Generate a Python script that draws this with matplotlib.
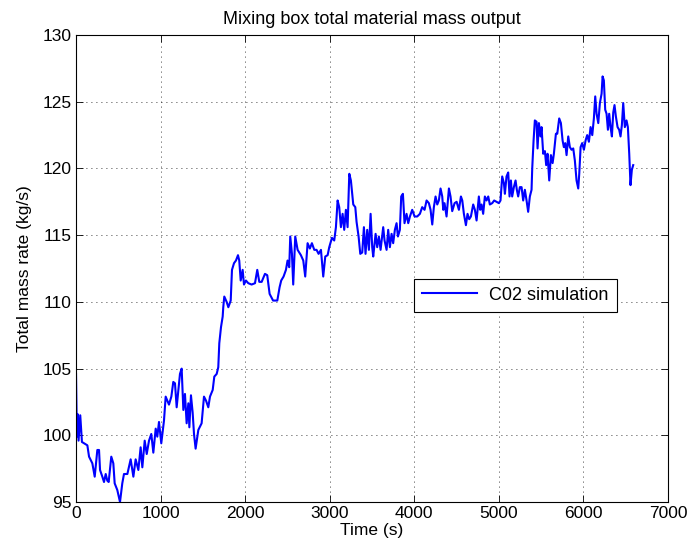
import matplotlib
matplotlib.use('Agg')
import matplotlib.pyplot as plt

# values (time in s, mass rate in kg/s)
time_s = [0, 10, 18, 30, 50, 70, 95, 134, 154, 193, 221, 252, 272, 284, 311, 331, 351, 370, 386,
          417, 441, 457, 488, 520, 547, 567, 607, 646, 678, 705, 737, 764, 784, 812, 836, 863,
          890, 914, 942, 961, 981, 1008, 1040, 1060, 1099, 1127,
          1150, 1170, 1190, 1210, 1229, 1249, 1269, 1288, 1308, 1328, 1340, 1359, 1379, 1395, 1414,
          1446, 1485, 1513, 1537, 1564, 1584, 1616, 1635, 1663, 1682, 1694, 1714, 1734, 1741, 1753,
          1781, 1801, 1829, 1844, 1868, 1891, 1915, 1930, 1947, 1970, 1986, 2009, 2037, 2076, 2116,
          2143, 2167, 2195, 2234, 2261,
          2289, 2330, 2380, 2407, 2426, 2454, 2482, 2501, 2521, 2533, 2553, 2568, 2592, 2620, 2659,
          2687, 2710, 2738, 2765, 2789, 2817, 2844, 2868, 2896, 2923, 2947, 2975, 2994, 3026, 3053,
          3073, 3093, 3112, 3132, 3152, 3171, 3191, 3211, 3231, 3250, 3278, 3302, 3317, 3341, 3361,
          3384, 3404, 3423, 3443, 3463, 3483, 3502, 3514, 3542, 3561, 3581, 3601, 3632, 3648, 3672,
          3691, 3711, 3731, 3750, 3770, 3790, 3806, 3829, 3845, 3865, 3884, 3908, 3928, 3948, 3975,
          4003, 4034, 4066, 4093, 4121, 4145, 4172, 4192, 4212, 4231, 4251, 4271, 4290, 4310, 4330,
          4342, 4357, 4381, 4409, 4428, 4448, 4476,
          4500, 4527, 4551, 4567, 4586, 4610, 4629, 4649, 4669, 4696, 4716, 4736, 4763, 4779, 4795,
          4814, 4834, 4854, 4874, 4893, 4921, 4944, 4972, 5000, 5019, 5039, 5059, 5071, 5090, 5110,
          5126, 5142, 5157, 5177, 5197, 5212, 5228, 5248, 5268, 5287, 5307, 5327, 5346, 5366, 5386,
          5394, 5410, 5425, 5445, 5457, 5473, 5492, 5504, 5524, 5544, 5559, 5575, 5595,
          5615, 5635, 5650, 5674, 5690, 5713, 5733, 5753, 5768, 5784, 5800, 5820, 5839, 5859, 5879,
          5898, 5918, 5938, 5950, 5966, 5985, 6005, 6025, 6044, 6064, 6084, 6104, 6123, 6139, 6155,
          6175, 6194, 6214, 6226, 6241, 6257, 6273, 6289, 6304, 6320, 6336, 6352, 6367, 6383, 6403,
          6422, 6438, 6454, 6470, 6489, 6509, 6525, 6541, 6556, 6572, 6588]
mass_rate = [104.6, 99.9, 101.6, 99.6, 101.5, 99.5, 99.4, 99.25, 98.4, 97.9, 96.9, 98.9, 98.9, 97.4,
             96.9, 96.5, 97.1, 96.6, 96.5, 98.4, 97.9, 96.4, 95.9, 95.0, 96.4, 97.1, 97.1, 98.2,
             96.9, 98.2, 97.4, 99.1, 97.6, 99.6, 98.6, 99.6, 100.1, 98.7, 100.5, 99.9, 101.0, 99.4,
             101.1, 102.9, 102.3, 102.9,
             104.0, 103.9, 102.1, 103.4, 104.6, 105.0, 101.9, 103.1, 100.9, 102.4, 100.6, 103.0,
             101.7, 100.1, 99.0, 100.4, 100.9, 102.9, 102.6, 102.1, 102.9, 103.4, 104.4, 104.6,
             105.1, 106.9, 108.1, 108.9, 109.6, 110.4, 110.0, 109.6, 110.1, 112.4, 112.9, 113.1,
             113.5, 113.1, 111.6, 112.4, 111.3, 111.6, 111.4, 111.3, 111.4, 112.4, 111.5, 111.5,
             112.1, 112.0,
             110.6, 110.1, 110.1, 111.1, 111.6, 111.9, 112.4, 113.1, 112.6, 114.9, 113.6, 111.3,
             114.9, 113.9, 113.5, 113.1, 111.9, 114.4, 114.0, 114.4, 113.9, 113.9, 113.6, 113.9,
             111.9, 113.4, 113.5, 114.1, 114.8, 114.6, 115.6, 117.6, 117.1, 115.6, 116.6, 115.4,
             116.9, 115.6, 119.6, 119.1, 117.3, 117.1, 116.0, 114.9, 113.6,
             113.7, 115.6, 113.6, 115.4, 113.9, 116.6, 114.1, 113.4, 115.1, 114.1, 114.9, 113.9,
             115.6, 114.6, 113.9, 115.4, 114.1, 115.1, 114.4, 115.4, 115.9, 114.9, 115.4, 117.9,
             118.1, 115.9, 116.6, 115.9, 116.4, 116.9, 116.4, 116.4, 116.6, 117.1, 116.9, 117.6,
             117.4, 116.9, 115.8, 117.1, 117.9, 117.3, 117.6, 118.5, 117.9, 116.9, 117.4, 116.4,
             118.5, 117.9, 116.8, 117.4,
             117.5, 116.9, 117.9, 117.6, 116.6, 115.75, 116.6, 116.2, 116.4, 117.3, 116.9, 116.1,
             117.9, 116.9, 117.3, 116.6, 117.9, 117.6, 117.9, 117.3, 117.4, 117.6, 117.5, 117.4,
             117.6, 119.4, 118.9, 118.1, 119.4, 119.7, 117.9, 119.1, 117.9, 118.6, 119.1, 118.4,
             117.9, 118.6, 118.6, 117.6, 118.4, 117.6, 116.75, 117.9, 118.4, 120.0, 122.1, 123.6,
             123.5, 121.5, 123.4, 122.4, 123.1, 121.1, 121.3, 120.25, 121.1, 119.1,
             121.0, 120.4, 121.1, 122.6, 122.6, 123.75, 123.4, 122.1, 121.6, 121.9, 121.0, 122.4,
             121.6, 121.4, 121.5, 120.6, 119.1, 118.5, 119.6, 121.6, 121.9, 121.4, 122.1, 122.5,
             122.0, 123.1, 122.5, 123.75, 125.4, 124.1, 123.4, 124.9, 125.6, 126.9, 126.6, 124.4,
             124.1, 122.9, 124.1, 123.1, 122.4, 124.2, 124.75, 123.9, 123.1, 122.9, 122.4, 123.25,
             124.9, 123.1, 123.6, 123.1, 121.1, 118.75, 119.9, 120.25]

x_ticks = [0, 1000, 2000, 3000, 4000, 5000, 6000, 7000]
y_ticks = [95, 100, 105, 110, 115, 120, 125, 130]

plt.rcParams['font.family'] = ['Liberation Sans', 'DejaVu Sans']
plt.rcParams['font.size'] = 12.5

fig = plt.figure(figsize=(6.93, 5.57), dpi=100)
ax = fig.add_axes([0.1097, 0.0987, 0.8543, 0.8384])

ax.plot(time_s, mass_rate, color='#0000ff', linewidth=1.5, label='C02 simulation')

ax.set_xlim(0, 7000)
ax.set_ylim(95, 130)
ax.set_xticks(x_ticks)
ax.set_yticks(y_ticks)
ax.tick_params(direction='in', top=True, right=True, length=5, width=0.6, pad=3, labelsize=12.5)
ax.grid(True, color='black', linestyle=(0, (1, 5)), linewidth=0.6)
for s in ax.spines.values():
    s.set_linewidth(0.8)

ax.set_xlabel('Time (s)', labelpad=1)
ax.set_ylabel('Total mass rate (kg/s)', labelpad=8)
ax.set_title('Mixing box total material mass output', fontsize=13, pad=8)

leg = ax.legend(loc='lower left', bbox_to_anchor=(0.556, 0.388), fancybox=False,
                edgecolor='black', framealpha=1, handlelength=3.0, handletextpad=0.7,
                borderpad=0.45, fontsize=13)
leg.get_frame().set_linewidth(0.8)

fig.savefig('out.png', dpi=100)
